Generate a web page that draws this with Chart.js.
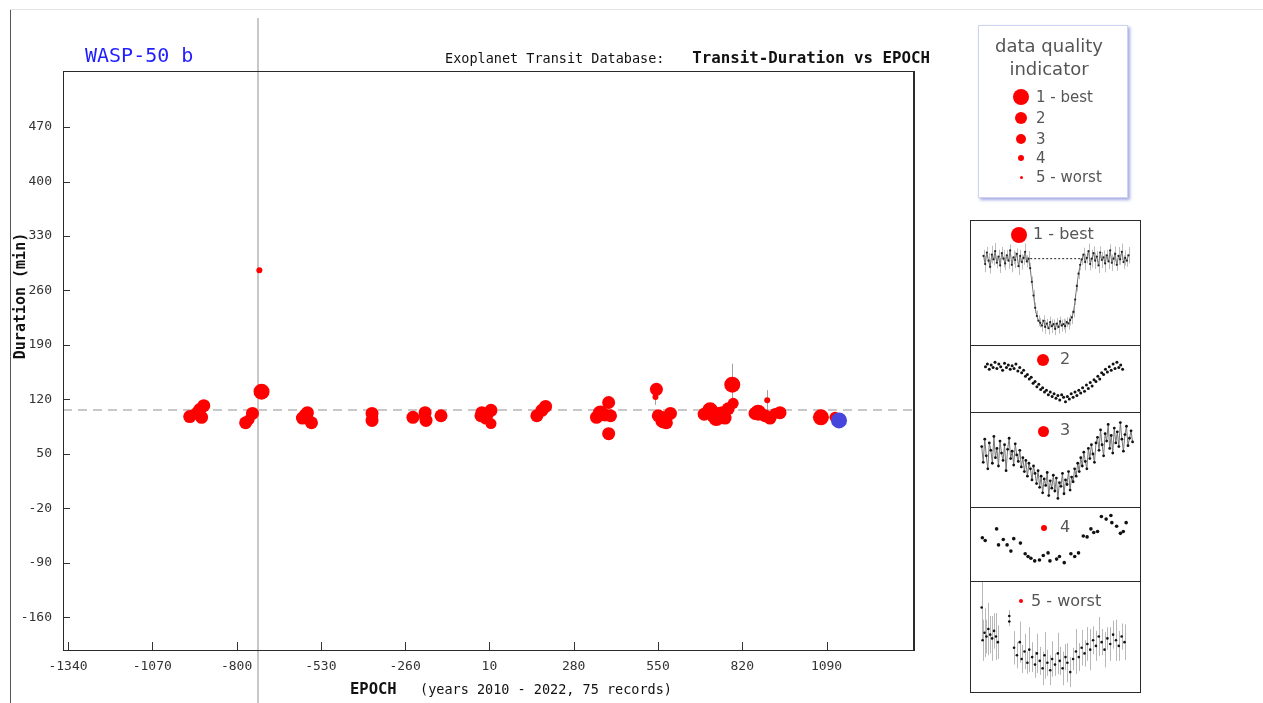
<!DOCTYPE html>
<html><head><meta charset="utf-8">
<script src="https://cdn.jsdelivr.net/npm/chart.js@4.4.1/dist/chart.umd.min.js"></script>
<style>
html,body{margin:0;padding:0;background:#fff;}
body{width:1263px;height:703px;position:relative;overflow:hidden;font-family:"DejaVu Sans",sans-serif;}
#main{position:absolute;left:0;top:0;}
.panel{position:absolute;left:970px;width:171px;box-sizing:border-box;border:1px solid #2a2a2a;background:#fff;}
.mini{position:absolute;}
.dot{position:absolute;background:#ff0000;border-radius:50%;}
.lbl{position:absolute;color:#555;font-size:15px;line-height:16px;white-space:nowrap;}
#legend{position:absolute;left:978px;top:25px;width:150px;height:173px;box-sizing:border-box;border:1px solid #d0d3f0;box-shadow:2px 2px 3px #a3a9e4;background:#fff;}
.lt{position:absolute;left:0;width:140px;text-align:center;color:#555;font-size:18px;line-height:20px;}
</style></head><body>
<canvas id="main" width="1263" height="703"></canvas>

<div id="legend">
  <div class="lt" style="top:10px">data quality</div>
  <div class="lt" style="top:33px">indicator</div>
</div>
<div class="dot" style="left:1013px;top:89px;width:16px;height:16px"></div>
<div class="lbl" style="left:1036px;top:89px">1 - best</div>
<div class="dot" style="left:1015px;top:112px;width:12px;height:12px"></div>
<div class="lbl" style="left:1036px;top:110px">2</div>
<div class="dot" style="left:1016px;top:134px;width:10px;height:10px"></div>
<div class="lbl" style="left:1036px;top:131px">3</div>
<div class="dot" style="left:1018px;top:155px;width:6px;height:6px"></div>
<div class="lbl" style="left:1036px;top:150px">4</div>
<div class="dot" style="left:1019.5px;top:175.5px;width:3px;height:3px"></div>
<div class="lbl" style="left:1036px;top:169px">5 - worst</div>

<div class="panel" style="top:220px;height:126px"></div>
<div class="panel" style="top:345px;height:68px"></div>
<div class="panel" style="top:412px;height:96px"></div>
<div class="panel" style="top:507px;height:75px"></div>
<div class="panel" style="top:581px;height:112px"></div>

<canvas id="m1" class="mini" width="168" height="123" style="left:971px;top:221px"></canvas>
<canvas id="m2" class="mini" width="168" height="65" style="left:971px;top:346px"></canvas>
<canvas id="m3" class="mini" width="168" height="94" style="left:971px;top:413px"></canvas>
<canvas id="m4" class="mini" width="168" height="72" style="left:971px;top:508px"></canvas>
<canvas id="m5" class="mini" width="168" height="110" style="left:971px;top:582px"></canvas>

<div class="dot" style="left:1011px;top:227px;width:16px;height:16px"></div>
<div class="lbl" style="left:1033px;top:226px;font-size:16px">1 - best</div>
<div class="dot" style="left:1037px;top:354px;width:12px;height:12px"></div>
<div class="lbl" style="left:1060px;top:351px;font-size:16px">2</div>
<div class="dot" style="left:1037.5px;top:425.5px;width:11px;height:11px"></div>
<div class="lbl" style="left:1060px;top:422px;font-size:16px">3</div>
<div class="dot" style="left:1041px;top:525px;width:6px;height:6px"></div>
<div class="lbl" style="left:1060px;top:519px;font-size:16px">4</div>
<div class="dot" style="left:1019px;top:599px;width:4px;height:4px"></div>
<div class="lbl" style="left:1031px;top:593px;font-size:16px">5 - worst</div>

<script>
// ---------- main chart data ----------
const epochs = [-950,-935,-925,-918,-912,-905, -771,-760,-749,-720,-727, -589,-582,-576,-573,-560,
  -366,-366,-364, -235,-198,-196,-193,-145, -17,-14,-1,5,15,15, 162,178,190,
  353,366,380,392,392,398, 542,545,551,560,567,577,590,
  698,717,725,737,745,756,765,775,791,788, 861,871,893,900,909,925,941, 1072,1117];
const durations = [98,101,103,107,97,112, 90,94,102,130,286, 96,101,99,103,90,
  102,93,98, 97,98,103,93,99, 99,103,96,100,106,89, 99,106,111,
  97,102,100,116,76,99, 123,133,99,97,93,90,102,
  101,106,99,96,100,103,96,108,115,139, 102,103,99,119,96,102,103, 97,97];
const quality = [2,3,2,2,2,2, 2,3,2,1,4, 2,3,2,2,2, 2,2,3, 2,3,2,2,2, 2,2,2,3,2,3, 2,2,2,
  2,1,2,2,2,2, 4,2,2,2,1,2,2, 2,1,2,1,1,2,2,2,3,1, 2,1,2,4,2,3,2, 1,3];
const durErr = [0,0,0,0,0,0, 0,0,0,0,0, 0,0,0,0,0, 0,0,0, 0,0,0,0,0, 0,0,0,0,8,0, 0,0,0,
  0,0,0,6,0,0, 10,0,0,0,0,0,0, 0,0,0,0,0,0,0,0,0,27, 0,0,0,13,0,0,0, 0,0];
const latestEpoch = [1130];
const latestDuration = [93];
const latestQuality = [1];
const xTicks = [-1340,-1070,-800,-530,-260,10,280,550,820,1090];
const yTicks = [-160,-90,-20,50,120,190,260,330,400,470];
const refEpoch = -730;
const meanDuration = 107;

// ---------- sample light curves (legend panels) ----------
const p1Flux = [104,92,109,97,88,106,99,111,94,103,90,108,100,93,105,97,112,91,102,98,107,89,104,95,101,110,96,100,
  86,66,46,28,16,9,
  6,2,9,0,5,-2,7,1,4,-3,5,0,8,2,4,1,7,5,10,14,
  22,40,60,78,91,99,
  106,95,101,111,92,100,108,97,103,90,109,98,102,93,105,96,112,94,100,107,91,104,99,110,95,101,97,105];
const p1Err = [9,12,8,11,10,13,9,12,8,10,11,9,13,10,8,12,9,11,10,12,8,13,9,11,10,12,9,11,
  8,8,8,8,8,8,
  7,9,8,10,7,9,8,10,7,9,8,10,7,9,8,10,7,9,8,10,
  8,8,8,8,8,8,
  10,12,8,11,9,13,10,12,8,11,9,12,10,13,8,11,9,12,10,11,9,13,8,12,10,11,9,12];
const p1RefX = [28,59];
const p1RefY = [100,100];
const p2X = [12,14,16,18,20,22,24,26,28,30,32,34,36,38,40,42,44,46,48,50,52,54,56,58,60,62,64,66,68,70,72,74,
  76,78,80,82,84,86,88,90,92,94,96,98,100,102,104,106,108,110,112,114,116,118,120,122,124,126,128,130,132,134,
  136,138,140,142,144,146,148,150,152,154,156];
const p2Y = [47,50,44,49,46,52,45,50,47,43,51,46,49,44,48,45,50,42,46,40,43,36,38,33,35,28,30,24,27,21,23,18,
  20,15,18,13,16,11,14,9,15,12,7,13,10,16,12,18,14,20,17,23,19,26,22,29,25,32,30,36,33,40,
  38,44,41,47,43,50,45,52,46,49,44];
const p3Flux = [62,45,70,52,38,66,58,44,73,50,60,41,68,55,47,64,36,59,71,49,57,42,65,53,46,
  58,40,50,35,47,30,44,38,26,41,33,
  22,36,18,30,12,27,20,34,9,25,17,31,14,28,6,23,19,33,11,26,21,35,15,29,24,
  38,30,44,35,50,41,56,46,38,60,49,64,54,45,66,
  72,58,80,64,52,76,68,86,60,74,55,82,66,78,62,88,70,57,75,84,63,71,79,67];
const p4T = [2,5,17,19,24,28,35,32,42,47,50,53,57,62,66,71,73,80,83,88,95,99,103,108,112,116,119,123,127,132,137,138,143,147,150,153];
const p4F = [28,25,38,20,26,20,27,13,22,10,7,5,2,3,8,11,2,4,7,0,10,7,11,30,29,38,34,35,52,49,53,45,41,33,35,45];
const p5X = [9,11,13,15,17,19,21,23,25,8, 37,37,
  42,45,48,50,53,56,58,61,64,66,69,72,74,77,80,82,85,88,90,93,96,98,101,104,107,110,113,116,119,122,125,128,131,134,137,140,143,146,149,152,155,158];
const p5Y = [60,68,64,72,66,62,70,64,58,95, 86,80,
  52,44,58,40,48,36,50,42,34,46,38,30,44,36,28,40,34,46,38,30,42,36,26,40,48,42,52,46,56,50,60,54,64,58,50,62,56,66,60,54,64,58];
const p5Err = [22,26,18,28,20,24,19,25,18,35, 6,5,
  18,14,22,15,19,12,24,16,14,21,15,18,25,14,16,19,12,22,15,18,14,21,16,12,24,15,19,14,18,22,15,16,21,14,19,12,18,15,22,16,14,19];

// ---------- helpers ----------
const qualRadius = {1:8, 2:6.5, 3:5.5, 4:3, 5:2};
Chart.defaults.font.family = '"DejaVu Sans Mono", monospace';

const errPlugin = {
  id: 'errbars',
  beforeDatasetsDraw(chart) {
    const ctx = chart.ctx, ys = chart.scales.y;
    chart.data.datasets.forEach((ds, i) => {
      if (!ds.errs) return;
      const meta = chart.getDatasetMeta(i);
      ctx.save();
      ctx.strokeStyle = ds.errColor || '#999';
      ctx.lineWidth = 1;
      meta.data.forEach((pt, j) => {
        const e = ds.errs[j];
        if (!e) return;
        const v = ds.data[j].y;
        const x = Math.round(pt.x) + 0.5;
        ctx.beginPath();
        ctx.moveTo(x, ys.getPixelForValue(v + e));
        ctx.lineTo(x, ys.getPixelForValue(v - e));
        ctx.stroke();
      });
      ctx.restore();
    });
  }
};

const decoPlugin = {
  id: 'deco',
  beforeDatasetsDraw(chart) {
    const ctx = chart.ctx, xs = chart.scales.x, ys = chart.scales.y, a = chart.chartArea;
    ctx.save();
    ctx.strokeStyle = '#c8c8c8';
    ctx.lineWidth = 2;
    ctx.setLineDash([9, 6]);
    const yy = Math.round(ys.getPixelForValue(meanDuration));
    ctx.beginPath(); ctx.moveTo(a.left, yy); ctx.lineTo(a.right, yy); ctx.stroke();
    ctx.setLineDash([]);
    const xx = Math.round(xs.getPixelForValue(refEpoch));
    ctx.beginPath(); ctx.moveTo(xx, 18); ctx.lineTo(xx, 703); ctx.stroke();
    ctx.restore();
  },
  afterDraw(chart) {
    const ctx = chart.ctx, xs = chart.scales.x, ys = chart.scales.y, a = chart.chartArea;
    ctx.save();
    ctx.strokeStyle = '#e2e2e2'; ctx.lineWidth = 1;
    ctx.beginPath(); ctx.moveTo(10, 9.5); ctx.lineTo(1263, 9.5); ctx.stroke();
    ctx.strokeStyle = '#555';
    ctx.beginPath(); ctx.moveTo(10.5, 10); ctx.lineTo(10.5, 703); ctx.stroke();
    ctx.strokeStyle = '#2a2a2a'; ctx.lineWidth = 1;
    ctx.strokeRect(a.left + 0.5, a.top + 0.5, a.right - a.left, a.bottom - a.top);
    ctx.beginPath(); ctx.moveTo(a.right + 1.5, a.top); ctx.lineTo(a.right + 1.5, a.bottom + 1); ctx.stroke();
    ctx.strokeStyle = '#333';
    yTicks.forEach(v => {
      const y = Math.round(ys.getPixelForValue(v)) + 0.5;
      ctx.beginPath(); ctx.moveTo(a.left, y); ctx.lineTo(a.left + 7, y); ctx.stroke();
    });
    xTicks.forEach(v => {
      const x = Math.round(xs.getPixelForValue(v)) + 0.5;
      ctx.beginPath(); ctx.moveTo(x, a.bottom); ctx.lineTo(x, a.bottom - 8); ctx.stroke();
    });
    ctx.textBaseline = 'middle';
    ctx.fillStyle = '#1f1fff';
    ctx.font = '20px "DejaVu Sans Mono"';
    ctx.textAlign = 'left';
    ctx.fillText('WASP-50 b', 85, 57);
    ctx.fillStyle = '#111';
    ctx.font = '13.5px "DejaVu Sans Mono"';
    ctx.fillText('Exoplanet Transit Database:', 445, 59);
    ctx.font = 'bold 15.8px "DejaVu Sans Mono"';
    ctx.textAlign = 'right';
    ctx.fillText('Transit-Duration vs EPOCH', 930, 59);
    ctx.textAlign = 'left';
    ctx.font = 'bold 15.5px "DejaVu Sans Mono"';
    ctx.fillText('EPOCH', 350, 690);
    ctx.font = '13.5px "DejaVu Sans Mono"';
    ctx.fillText('(years 2010 - 2022, 75 records)', 420, 690);
    ctx.translate(21, 296);
    ctx.rotate(-Math.PI / 2);
    ctx.textAlign = 'center';
    ctx.font = 'bold 15px "DejaVu Sans Mono"';
    ctx.fillText('Duration (min)', 0, 0);
    ctx.restore();
  }
};

const redPts = epochs.map((e, i) => ({x: e, y: durations[i]}));
const bluePts = latestEpoch.map((e, i) => ({x: e, y: latestDuration[i]}));

new Chart(document.getElementById('main'), {
  type: 'scatter',
  data: {
    datasets: [
      {
        data: bluePts,
        backgroundColor: '#4646dc',
        pointRadius: latestQuality.map(q => qualRadius[q]),
        pointBorderWidth: 0,
        pointHoverRadius: latestQuality.map(q => qualRadius[q])
      },
      {
        data: redPts,
        errs: durErr,
        errColor: '#a0a0a0',
        backgroundColor: '#ff0000',
        pointRadius: quality.map(q => qualRadius[q]),
        pointHoverRadius: quality.map(q => qualRadius[q]),
        pointBorderWidth: 0
      }
    ]
  },
  options: {
    responsive: false,
    animation: false,
    devicePixelRatio: 1,
    events: [],
    layout: {padding: {left: 0, top: 71, right: 350, bottom: 0}},
    plugins: {legend: {display: false}, tooltip: {enabled: false}},
    scales: {
      x: {
        type: 'linear', min: -1356, max: 1367,
        afterBuildTicks: s => { s.ticks = xTicks.map(v => ({value: v})); },
        afterFit: s => { s.height = 53; },
        grid: {display: false, drawTicks: false},
        border: {display: false},
        ticks: {autoSkip: false, maxRotation: 0, padding: 9, color: '#333',
          font: {size: 13, family: '"DejaVu Sans Mono"'}, callback: v => String(v)}
      },
      y: {
        type: 'linear', min: -202, max: 542,
        afterBuildTicks: s => { s.ticks = yTicks.map(v => ({value: v})); },
        afterFit: s => { s.width = 63; },
        grid: {display: false, drawTicks: false},
        border: {display: false},
        ticks: {autoSkip: false, padding: 11, color: '#333',
          font: {size: 13, family: '"DejaVu Sans Mono"'}, callback: v => String(v)}
      }
    }
  },
  plugins: [errPlugin, decoPlugin]
});

// ---------- mini charts ----------
function miniOpts(xmin, xmax, ymin, ymax) {
  return {
    responsive: false, animation: false, devicePixelRatio: 1, events: [],
    layout: {padding: 0},
    plugins: {legend: {display: false}, tooltip: {enabled: false}},
    scales: {
      x: {type: 'linear', display: false, min: xmin, max: xmax},
      y: {type: 'linear', display: false, min: ymin, max: ymax}
    }
  };
}

new Chart(document.getElementById('m1'), {
  type: 'scatter',
  data: {datasets: [
    {data: p1RefX.map((x, i) => ({x: x, y: p1RefY[i]})), showLine: true, borderColor: '#222', borderWidth: 1,
      borderDash: [2, 2], pointRadius: 0},
    {data: p1Flux.map((v, i) => ({x: i, y: v})), errs: p1Err, errColor: '#bdbdbd', showLine: true,
      borderColor: '#777', borderWidth: 1, pointRadius: 1.1, pointBackgroundColor: '#222', pointBorderWidth: 0}
  ]},
  options: miniOpts(-5.1, 90.9, -19.2, 149.3),
  plugins: [errPlugin]
});

new Chart(document.getElementById('m2'), {
  type: 'scatter',
  data: {datasets: [
    {data: p2X.map((x, i) => ({x: x, y: p2Y[i]})), pointRadius: 1.5, pointBackgroundColor: '#111', pointBorderWidth: 0}
  ]},
  options: miniOpts(1, 169, 1, 66)
});

new Chart(document.getElementById('m3'), {
  type: 'scatter',
  data: {datasets: [
    {data: p3Flux.map((v, i) => ({x: i, y: v})), showLine: true, borderColor: '#777', borderWidth: 1,
      pointRadius: 1.4, pointBackgroundColor: '#111', pointBorderWidth: 0}
  ]},
  options: miniOpts(-4.4, 100.6, 1, 94)
});

new Chart(document.getElementById('m4'), {
  type: 'scatter',
  data: {datasets: [
    {data: p4T.map((t, i) => ({x: t, y: p4F[i]})), pointRadius: 1.8, pointBackgroundColor: '#111', pointBorderWidth: 0}
  ]},
  options: miniOpts(-5.7, 162.3, -15, 57)
});

new Chart(document.getElementById('m5'), {
  type: 'scatter',
  data: {datasets: [
    {data: p5X.map((x, i) => ({x: x, y: p5Y[i]})), errs: p5Err, errColor: '#b8b8b8',
      pointRadius: 1.3, pointBackgroundColor: '#111', pointBorderWidth: 0}
  ]},
  options: miniOpts(1, 169, 9, 118),
  plugins: [errPlugin]
});
</script>
</body></html>
